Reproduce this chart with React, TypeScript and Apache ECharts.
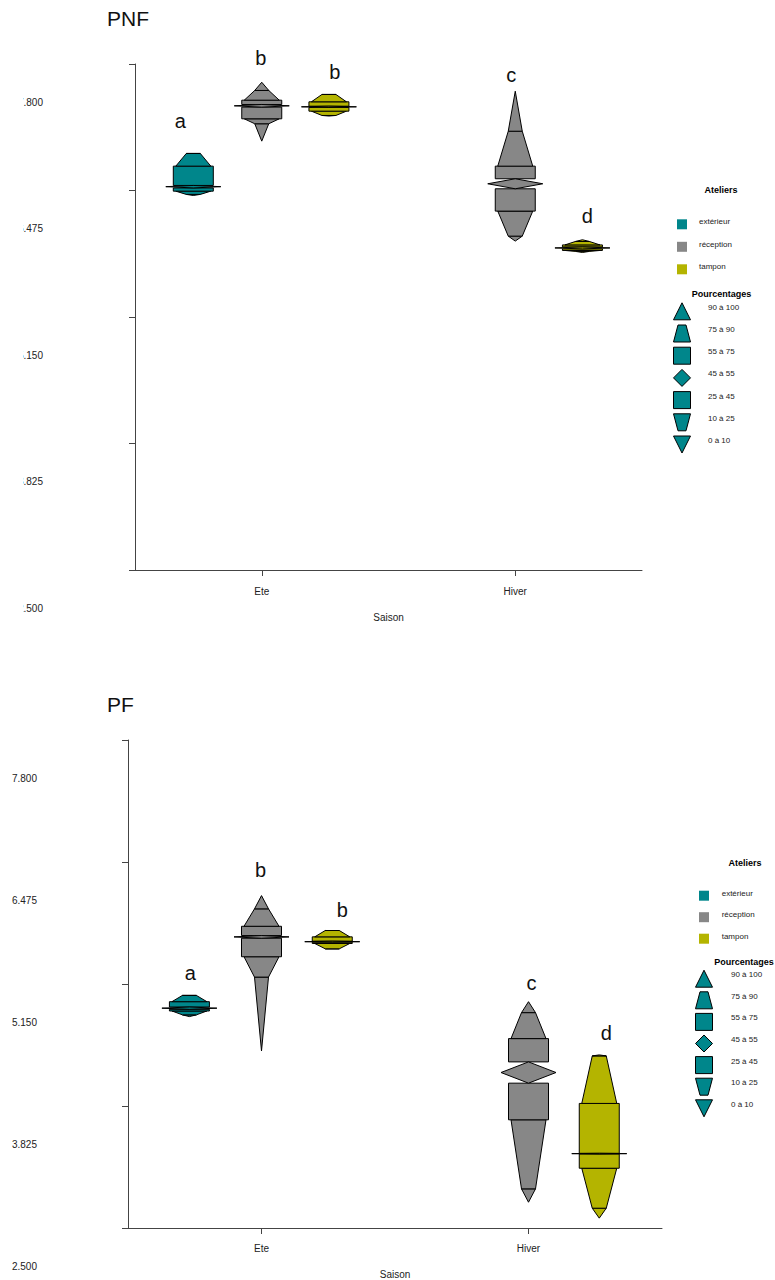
import React, { useEffect, useRef } from 'react';
import * as echarts from 'echarts';

const FONT = '"Liberation Sans", Arial, Helvetica, sans-serif';

const seasons = ['Ete', 'Hiver'];
const ateliers = ['extérieur', 'réception', 'tampon'];
const atelierColors = ['#00868B', '#878787', '#B4B400'];
const percentBands = ['90 à 100', '75 à 90', '55 à 75', '45 à 55', '25 à 45', '10 à 25', '0 à 10'];
const yTicks = [2.5, 3.825, 5.15, 6.475, 7.8];

// Percentile rows: [season index, p0, p10, p25, p45, p55, p75, p90, p100]
const pnfExterieur = [[0, 6.423, 6.434, 6.468, 6.502, 6.528, 6.73, 6.863, 6.863]];
const pnfReception = [
  [0, 6.992, 7.174, 7.226, 7.348, 7.376, 7.421, 7.523, 7.609],
  [1, 5.945, 5.997, 6.259, 6.493, 6.598, 6.73, 7.096, 7.515],
];
const pnfTampon = [
  [0, 7.255, 7.261, 7.306, 7.345, 7.358, 7.404, 7.481, 7.481],
  [1, 5.826, 5.837, 5.847, 5.863, 5.884, 5.905, 5.941, 5.959],
];

const pfExterieur = [[0, 4.796, 4.815, 4.857, 4.875, 4.9, 4.958, 5.026, 5.026]];
const pfReception = [
  [0, 4.423, 5.225, 5.446, 5.647, 5.676, 5.777, 5.966, 6.11],
  [1, 2.78, 2.925, 3.675, 4.073, 4.304, 4.557, 4.839, 4.958],
];
const pfTampon = [
  [0, 5.532, 5.532, 5.59, 5.604, 5.615, 5.662, 5.731, 5.731],
  [1, 2.607, 2.715, 3.149, 3.304, 3.311, 3.853, 4.369, 4.38],
];

// Group letters: [season index, atelier index, y value]
const pnfLetterText = ['a', 'b', 'b', 'c', 'd'];
const pnfLetterPos = [
  [0, 0, 7.208],
  [0, 1, 7.868],
  [0, 2, 7.711],
  [1, 1, 7.69],
  [1, 2, 6.203],
];
const pfLetterText = ['a', 'b', 'b', 'c', 'd'];
const pfLetterPos = [
  [0, 0, 5.272],
  [0, 1, 6.392],
  [0, 2, 5.958],
  [1, 1, 5.164],
  [1, 2, 4.622],
];

// Horizontal placement of each atelier inside a season band (fraction of band)
const atelierOffset = [-0.27, 0, 0.265];
// Small pixel nudges of the letters
const pnfLetterNudge = [-13, -1, 6, -4, 5];
const pfLetterNudge = [1, -1, 10, 3, 7];

// Half widths (px) of the percentile shape pieces
const HALF_NARROW = 7;
const HALF_TRAP = 17.5;
const HALF_RECT = 20;
const HALF_DIAMOND = 27.5;

const panels = [
  {
    title: 'PNF',
    groups: [pnfExterieur, pnfReception, pnfTampon],
    letterText: pnfLetterText,
    letterPos: pnfLetterPos,
    nudge: pnfLetterNudge,
    grid: { left: 135, top: 64, width: 507, height: 506 },
    titleTop: 8,
    labelMargin: 92,
    xLabelMargin: 16,
    nameGap: 42,
    legend: {
      titleX: 721, titleY: 190,
      sqX: 682, sqY0: 224.3, sqStep: 22.5, sqTxtX: 699,
      pctTitleX: 721.5, pctTitleY: 294.3,
      shpX: 682, shpY0: 311.3, shpStep: 22.2, shpTxtX: 708,
    },
  },
  {
    title: 'PF',
    groups: [pfExterieur, pfReception, pfTampon],
    letterText: pfLetterText,
    letterPos: pfLetterPos,
    nudge: pfLetterNudge,
    grid: { left: 128, top: 740, width: 534, height: 490 },
    titleTop: 694,
    labelMargin: 91,
    xLabelMargin: 15,
    nameGap: 41,
    legend: {
      titleX: 745, titleY: 862.7,
      sqX: 704, sqY0: 895.7, sqStep: 21.5, sqTxtX: 721.7,
      pctTitleX: 744, pctTitleY: 961.7,
      shpX: 704, shpY0: 978.7, shpStep: 21.6, shpTxtX: 731,
    },
  },
];

function shapeRenderer(offset: number) {
  return (params: any, api: any) => {
    const cat = api.value(0);
    const vals: number[] = [];
    for (let i = 1; i <= 8; i++) vals.push(api.value(i));
    const band = api.size([1, 0])[0];
    const cx = api.coord([cat, vals[0]])[0] + offset * band;
    const y = vals.map((v) => api.coord([cat, v])[1]);
    const fill = api.visual('color');
    const st = { fill, stroke: '#000', lineWidth: 1 };
    const poly = (points: number[][]) => ({ type: 'polygon', shape: { points }, style: st });
    const midY = (y[3] + y[4]) / 2;
    return {
      type: 'group',
      children: [
        // 0 - 10
        poly([[cx - HALF_NARROW, y[1]], [cx + HALF_NARROW, y[1]], [cx, y[0]]]),
        // 10 - 25
        poly([[cx - HALF_TRAP, y[2]], [cx + HALF_TRAP, y[2]], [cx + HALF_NARROW, y[1]], [cx - HALF_NARROW, y[1]]]),
        // 25 - 45
        poly([[cx - HALF_RECT, y[3]], [cx + HALF_RECT, y[3]], [cx + HALF_RECT, y[2]], [cx - HALF_RECT, y[2]]]),
        // 55 - 75
        poly([[cx - HALF_RECT, y[5]], [cx + HALF_RECT, y[5]], [cx + HALF_RECT, y[4]], [cx - HALF_RECT, y[4]]]),
        // 75 - 90
        poly([[cx - HALF_NARROW, y[6]], [cx + HALF_NARROW, y[6]], [cx + HALF_TRAP, y[5]], [cx - HALF_TRAP, y[5]]]),
        // 90 - 100
        poly([[cx, y[7]], [cx + HALF_NARROW, y[6]], [cx - HALF_NARROW, y[6]]]),
        // 45 - 55
        poly([[cx, y[4]], [cx + HALF_DIAMOND, midY], [cx, y[3]], [cx - HALF_DIAMOND, midY]]),
      ],
    };
  };
}

function letterRenderer(texts: string[], nudge: number[]) {
  return (params: any, api: any) => {
    const cat = api.value(0);
    const at = api.value(1);
    const v = api.value(2);
    const band = api.size([1, 0])[0];
    const p = api.coord([cat, v]);
    return {
      type: 'text',
      x: p[0] + atelierOffset[at] * band + nudge[params.dataIndex],
      y: p[1],
      style: {
        text: texts[params.dataIndex],
        fontSize: 20,
        fontFamily: FONT,
        fill: '#111',
        align: 'center',
        verticalAlign: 'middle',
      },
    };
  };
}

function legendGraphics(L: any) {
  const els: any[] = [];
  const txt = (x: number, y: number, text: string, size: number, bold: boolean, align: string) => ({
    type: 'text',
    x,
    y,
    z: 100,
    style: {
      text,
      fontSize: size,
      fontWeight: bold ? 'bold' : 'normal',
      fontFamily: FONT,
      fill: bold ? '#000' : '#222',
      align,
      verticalAlign: 'middle',
    },
  });
  els.push(txt(L.titleX, L.titleY, 'Ateliers', 9, true, 'center'));
  ateliers.forEach((name, i) => {
    const cy = L.sqY0 + i * L.sqStep;
    els.push({
      type: 'rect',
      z: 100,
      shape: { x: L.sqX - 5, y: cy - 5, width: 10, height: 10 },
      style: { fill: atelierColors[i] },
    });
    els.push(txt(L.sqTxtX, cy - 2.5, name, 8, false, 'left'));
  });
  els.push(txt(L.pctTitleX, L.pctTitleY, 'Pourcentages', 9, true, 'center'));
  const h = 8.5;
  percentBands.forEach((name, i) => {
    const x = L.shpX;
    const y = L.shpY0 + i * L.shpStep;
    let pts: number[][];
    switch (i) {
      case 0: pts = [[x, y - h], [x + h, y + h], [x - h, y + h]]; break;
      case 1: pts = [[x - 4, y - h], [x + 4, y - h], [x + h, y + h], [x - h, y + h]]; break;
      case 3: pts = [[x, y - h], [x + h, y], [x, y + h], [x - h, y]]; break;
      case 5: pts = [[x - h, y - h], [x + h, y - h], [x + 4, y + h], [x - 4, y + h]]; break;
      case 6: pts = [[x - h, y - h], [x + h, y - h], [x, y + h]]; break;
      default: pts = [[x - h, y - h], [x + h, y - h], [x + h, y + h], [x - h, y + h]];
    }
    els.push({
      type: 'polygon',
      z: 100,
      shape: { points: pts },
      style: { fill: atelierColors[0], stroke: '#000', lineWidth: 1 },
    });
    els.push(txt(L.shpTxtX, y - 4, name, 8, false, 'left'));
  });
  return els;
}

export default function App() {
  const ref = useRef<HTMLDivElement>(null);

  useEffect(() => {
    if (!ref.current) return;
    const chart = echarts.init(ref.current, undefined, { renderer: 'svg' });

    const axisColor = '#444';
    const grids = panels.map((p) => ({ ...p.grid, containLabel: false }));
    const xAxes = panels.map((p, i) => ({
      type: 'category',
      gridIndex: i,
      data: seasons,
      boundaryGap: true,
      name: 'Saison',
      nameLocation: 'middle',
      nameGap: p.nameGap,
      nameTextStyle: { fontSize: 10, color: '#222', fontFamily: FONT },
      axisLine: { show: true, lineStyle: { color: axisColor, width: 1 } },
      axisTick: { show: true, alignWithLabel: true, length: 6, lineStyle: { color: axisColor } },
      axisLabel: { fontSize: 10, color: '#222', fontFamily: FONT, margin: p.xLabelMargin },
      splitLine: { show: false },
    }));
    const yAxes = panels.map((p, i) => ({
      type: 'value',
      gridIndex: i,
      min: yTicks[0],
      max: yTicks[yTicks.length - 1],
      axisLine: { show: true, lineStyle: { color: axisColor, width: 1 } },
      axisTick: { show: true, length: 6, customValues: yTicks, lineStyle: { color: axisColor } },
      axisLabel: {
        customValues: yTicks,
        showMinLabel: true,
        showMaxLabel: true,
        fontSize: 10,
        color: '#222',
        fontFamily: FONT,
        align: 'right',
        verticalAlign: 'top',
        padding: [33, 0, 0, 0],
        margin: p.labelMargin,
        formatter: (v: number) => v.toFixed(3),
      },
      splitLine: { show: false },
    }));

    const series: any[] = [];
    panels.forEach((p, pi) => {
      p.groups.forEach((rows, ai) => {
        series.push({
          type: 'custom',
          name: ateliers[ai],
          xAxisIndex: pi,
          yAxisIndex: pi,
          clip: false,
          itemStyle: { color: atelierColors[ai] },
          encode: { x: 0, y: [1, 2, 3, 4, 5, 6, 7, 8] },
          data: rows,
          renderItem: shapeRenderer(atelierOffset[ai]),
        });
      });
      series.push({
        type: 'custom',
        name: 'lettres ' + p.title,
        xAxisIndex: pi,
        yAxisIndex: pi,
        clip: false,
        encode: { x: 0, y: 2 },
        data: p.letterPos,
        renderItem: letterRenderer(p.letterText, p.nudge),
      });
    });

    const graphics: any[] = [
      // The upper panel's tick labels are cut at the page's left edge
      {
        type: 'rect',
        z: 100,
        shape: { x: 0, y: 60, width: 23, height: 570 },
        style: { fill: '#fff' },
      },
      ...legendGraphics(panels[0].legend),
      ...legendGraphics(panels[1].legend),
    ];

    chart.setOption({
      animation: false,
      backgroundColor: '#fff',
      textStyle: { fontFamily: FONT },
      title: panels.map((p) => ({
        text: p.title,
        left: 107,
        top: p.titleTop,
        padding: 0,
        textStyle: { fontSize: 21, fontWeight: 'normal', color: '#111', fontFamily: FONT },
      })),
      grid: grids,
      xAxis: xAxes,
      yAxis: yAxes,
      series,
      graphic: graphics,
    });

    return () => chart.dispose();
  }, []);

  return (
    <div
      ref={ref}
      style={{ position: 'absolute', left: 0, top: 0, width: 775, height: 1280 }}
    />
  );
}
